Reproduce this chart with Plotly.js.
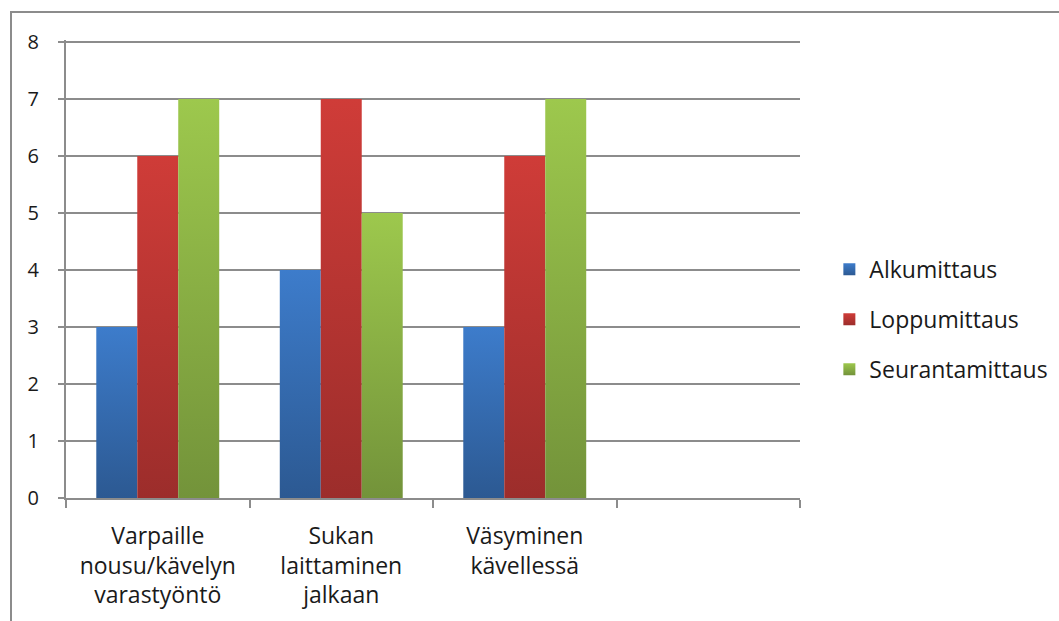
<!DOCTYPE html>
<html>
<head>
<meta charset="utf-8">
<script src="https://cdn.plot.ly/plotly-3.0.1.min.js"></script>
<style>
html,body{margin:0;padding:0;background:#fff;}
#frame{position:absolute;left:10px;top:11px;width:1100px;height:700px;border-left:2px solid #8c8c8c;border-top:2px solid #8c8c8c;}
#chart{position:absolute;left:0;top:0;width:1059px;height:621px;}
</style>
</head>
<body>
<div id="frame"></div>
<div id="chart"></div>
<script>
var categories = ["Varpaille<br>nousu/kävelyn<br>varastyöntö", "Sukan<br>laittaminen<br>jalkaan", "Väsyminen<br>kävellessä", " "];
var seriesNames = ["Alkumittaus", "Loppumittaus", "Seurantamittaus"];
var alkumittaus = [3, 4, 3, null];
var loppumittaus = [6, 7, 6, null];
var seurantamittaus = [7, 5, 7, null];
var yTicks = [0, 1, 2, 3, 4, 5, 6, 7, 8];

var colors = ["#3567ad", "#b8312f", "#89ad40"];
var grads = [["#3d7ccb", "#2c5992"], ["#cf3c38", "#9c2d2b"], ["#9dc84d", "#73933a"]];
var values = [alkumittaus, loppumittaus, seurantamittaus];

var traces = values.map(function (v, i) {
  return {
    type: "bar",
    name: seriesNames[i],
    x: categories,
    y: v,
    marker: { color: colors[i], line: { width: 0 } },
    legendgroup: "g" + i,
    hoverinfo: "y"
  };
});

var fontFam = "'Open Sans', 'Liberation Sans', sans-serif";
var layout = {
  width: 1059,
  height: 621,
  margin: { l: 66, r: 259, t: 40, b: 123, autoexpand: false },
  paper_bgcolor: "rgba(0,0,0,0)",
  plot_bgcolor: "rgba(0,0,0,0)",
  font: { family: fontFam, size: 23, color: "#1a1a1a" },
  barmode: "group",
  bargap: 0.33,
  bargroupgap: 0,
  showlegend: true,
  legend: {
    x: 1.04, xanchor: "left",
    y: 0.39, yanchor: "middle",
    font: { family: fontFam, size: 23, color: "#1a1a1a" },
    traceorder: "grouped",
    tracegroupgap: 17,
    itemwidth: 30
  },
  xaxis: {
    type: "category",
    categoryorder: "array",
    categoryarray: categories,
    range: [-0.5, 3.5],
    showline: true, linecolor: "#8c8c8c", linewidth: 2,
    ticks: "outside", tickson: "boundaries", ticklen: 8, tickcolor: "#8c8c8c", tickwidth: 2,
    ticklabelstandoff: 16,
    showgrid: false,
    tickfont: { family: fontFam, size: 23, color: "#1a1a1a" },
    fixedrange: true
  },
  yaxis: {
    range: [0, 8.035],
    tickvals: yTicks,
    ticktext: yTicks.map(String),
    showline: true, linecolor: "#8c8c8c", linewidth: 2,
    ticks: "outside", ticklen: 6, tickcolor: "#8c8c8c", tickwidth: 2,
    ticklabelstandoff: 15,
    showgrid: true, gridcolor: "#8c8c8c", gridwidth: 2,
    zeroline: false,
    tickfont: { family: fontFam, size: 20, color: "#1a1a1a" },
    fixedrange: true
  }
};

Plotly.newPlot("chart", traces, layout, { displayModeBar: false, staticPlot: true }).then(function (gd) {
  var svg = gd.querySelector("svg.main-svg");
  var defs = svg.querySelector("defs");
  var ns = "http://www.w3.org/2000/svg";
  grads.forEach(function (g, i) {
    var lg = document.createElementNS(ns, "linearGradient");
    lg.setAttribute("id", "bargrad" + i);
    lg.setAttribute("x1", "0"); lg.setAttribute("y1", "0");
    lg.setAttribute("x2", "0"); lg.setAttribute("y2", "1");
    var s1 = document.createElementNS(ns, "stop");
    s1.setAttribute("offset", "0"); s1.setAttribute("stop-color", g[0]);
    var s2 = document.createElementNS(ns, "stop");
    s2.setAttribute("offset", "1"); s2.setAttribute("stop-color", g[1]);
    lg.appendChild(s1); lg.appendChild(s2);
    defs.appendChild(lg);
  });
  var tr = gd.querySelectorAll(".barlayer .trace.bars");
  tr.forEach(function (t, i) {
    t.querySelectorAll("path").forEach(function (p) { p.style.fill = "url(#bargrad" + i + ")"; });
  });
  var lt = gd.querySelectorAll(".legend .traces");
  lt.forEach(function (t, i) {
    t.querySelectorAll(".legendpoints path").forEach(function (p) { p.style.fill = "url(#bargrad" + i + ")"; });
  });
});
</script>
</body>
</html>
